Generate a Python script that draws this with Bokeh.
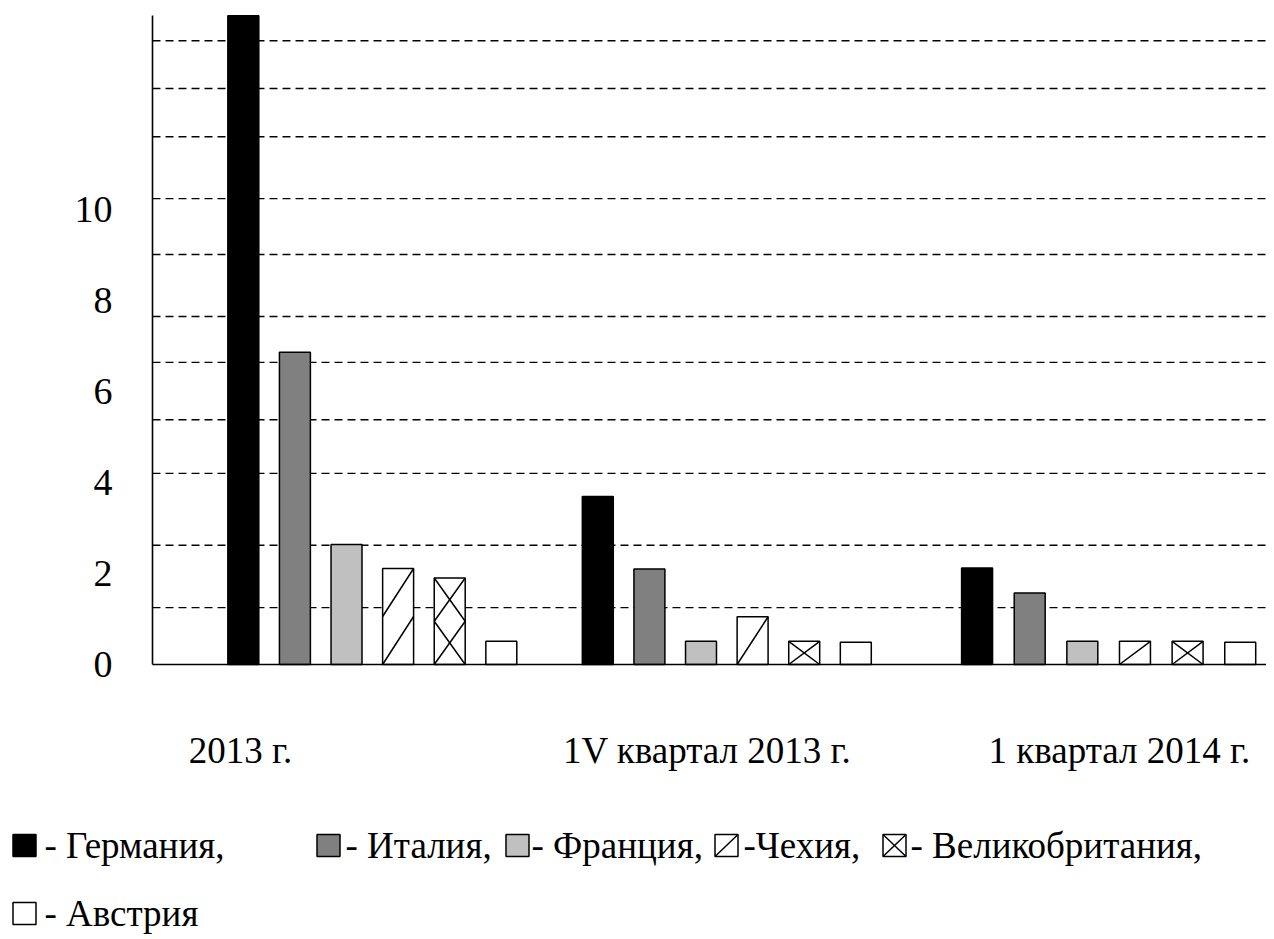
from bokeh.plotting import figure
from bokeh.models import Range1d, FixedTicker, ColumnDataSource, LinearAxis
from bokeh.embed import file_html
from bokeh.resources import INLINE
from bokeh.core.properties import value

# ---------------- data ----------------
categories = ["2013 г.", "1V квартал 2013 г.", "1 квартал 2014 г."]
countries = ["Германия", "Италия", "Франция", "Чехия", "Великобритания", "Австрия"]
germany = [14.26, 3.69, 2.12]
italy = [6.86, 2.10, 1.57]
france = [2.64, 0.51, 0.51]
czech = [2.11, 1.05, 0.51]
uk = [1.90, 0.51, 0.51]
austria = [0.51, 0.49, 0.49]
y_tick_values = [0, 2, 4, 6, 8, 10]
grid_levels = [1.25, 2.62, 4.2, 5.38, 6.64, 7.65, 9.01, 10.24, 11.6, 12.66, 13.71]
legend_labels = ["- Германия,", "- Италия,", "- Франция,", "-Чехия,", "- Великобритания,", "- Австрия"]

series = [germany, italy, france, czech, uk, austria]

# ---------------- styles / layout ----------------
fills = ["#000000", "#808080", "#c0c0c0", "#ffffff", "#ffffff", "#ffffff"]
# pattern drawn inside a bar: None, "diag" (one rising diagonal per cell) or "cross" (X per cell)
patterns = [None, None, None, "diag", "cross", None]
pattern_cell = [None, None, None, 1.03, 0.9, None]   # target cell height in data units
group_x0 = [1.76, 8.63, 15.98]
group_step = [1.0, 1.0, 1.02]
label_x = [1.705, 10.75, 18.74]
BAR_W = 0.6
AXIS_TOP = 14.26
SERIF = "Liberation Serif"

W, H = 1266, 935
AX_X, AX_Y = 152, 664          # pixel position of the axes' origin
PX_X, PX_Y = 51.6, 45.5         # pixels per data unit

def dx(px):
    return (px - AX_X) / PX_X

def dy(py):
    return (AX_Y - py) / PX_Y

x_end = dx(W)
p = figure(width=W, height=H, output_backend="svg", toolbar_location=None,
           x_range=Range1d(dx(0), x_end), y_range=Range1d(dy(H), dy(0)),
           x_axis_location=None, y_axis_location=None,
           min_border=0, min_border_left=0, min_border_right=0,
           min_border_top=0, min_border_bottom=0)
p.outline_line_color = None
p.grid.visible = False
p.background_fill_color = "white"
p.border_fill_color = "white"

# dashed horizontal grid lines (from the axis to the right edge)
p.segment(x0=0, x1=x_end, y0=grid_levels, y1=grid_levels,
          line_color="black", line_dash="8 5", line_width=1.4)

# bars
for i, vals in enumerate(series):
    xs = [group_x0[g] + i * group_step[g] for g in range(len(categories))]
    src = ColumnDataSource(dict(x=xs, top=vals))
    p.vbar(x="x", top="top", bottom=0, width=BAR_W, source=src,
           fill_color=fills[i], line_color="black", line_width=1.5)
    if patterns[i]:
        x0s, y0s, x1s, y1s = [], [], [], []
        for xc, v in zip(xs, vals):
            n = max(1, round(v / pattern_cell[i]))
            ch = v / n
            for k in range(n):
                lo, hi = k * ch, (k + 1) * ch
                x0s.append(xc - BAR_W / 2); y0s.append(lo)
                x1s.append(xc + BAR_W / 2); y1s.append(hi)
                if patterns[i] == "cross":
                    x0s.append(xc - BAR_W / 2); y0s.append(hi)
                    x1s.append(xc + BAR_W / 2); y1s.append(lo)
        p.segment(x0=x0s, y0=y0s, x1=x1s, y1=y1s, line_color="black", line_width=1.5)

# y axis
ya = LinearAxis(fixed_location=0, bounds=(0, AXIS_TOP),
                ticker=FixedTicker(ticks=y_tick_values))
ya.axis_line_color = "black"
ya.axis_line_width = 1.6
ya.major_tick_line_color = None
ya.minor_tick_line_color = None
ya.major_label_text_font = SERIF
ya.major_label_text_font_size = "38px"
ya.major_label_text_color = "black"
ya.major_label_standoff = 34
p.add_layout(ya, "left")

# x axis (category labels)
xa = LinearAxis(fixed_location=0, bounds=(0, x_end),
                ticker=FixedTicker(ticks=label_x))
xa.major_label_overrides = {lx: c for lx, c in zip(label_x, categories)}
xa.axis_line_color = "black"
xa.axis_line_width = 1.5
xa.major_tick_line_color = None
xa.minor_tick_line_color = None
xa.major_label_text_font = SERIF
xa.major_label_text_font_size = "37px"
xa.major_label_text_color = "black"
xa.major_label_standoff = 59
p.add_layout(xa, "below")

# ---------------- legend ----------------
sq_px = [24, 328, 517, 726, 894, 24]
sq_py = [845, 845, 845, 845, 845, 913]
txt_px = [44, 345, 531, 743, 910, 44]
SQW, SQH = 23, 22
sx = [dx(v) for v in sq_px]
sy = [dy(v) for v in sq_py]
p.rect(x=sx, y=sy, width=SQW, height=SQH, width_units="screen", height_units="screen",
       fill_color=fills, line_color="black", line_width=1.5)
hw, hh = SQW / 2 / PX_X, SQH / 2 / PX_Y
cz, ukk = 3, 4
p.segment(x0=[sx[cz] - hw, sx[ukk] - hw, sx[ukk] - hw],
          y0=[sy[cz] - hh, sy[ukk] - hh, sy[ukk] + hh],
          x1=[sx[cz] + hw, sx[ukk] + hw, sx[ukk] + hw],
          y1=[sy[cz] + hh, sy[ukk] + hh, sy[ukk] - hh],
          line_color="black", line_width=1.5)
p.text(x=[dx(v) for v in txt_px], y=sy, text=legend_labels,
       text_font=value(SERIF), text_font_size=value("37px"),
       text_baseline="middle", text_align="left", text_color="black")

open("out.html", "w").write(file_html(p, INLINE))
